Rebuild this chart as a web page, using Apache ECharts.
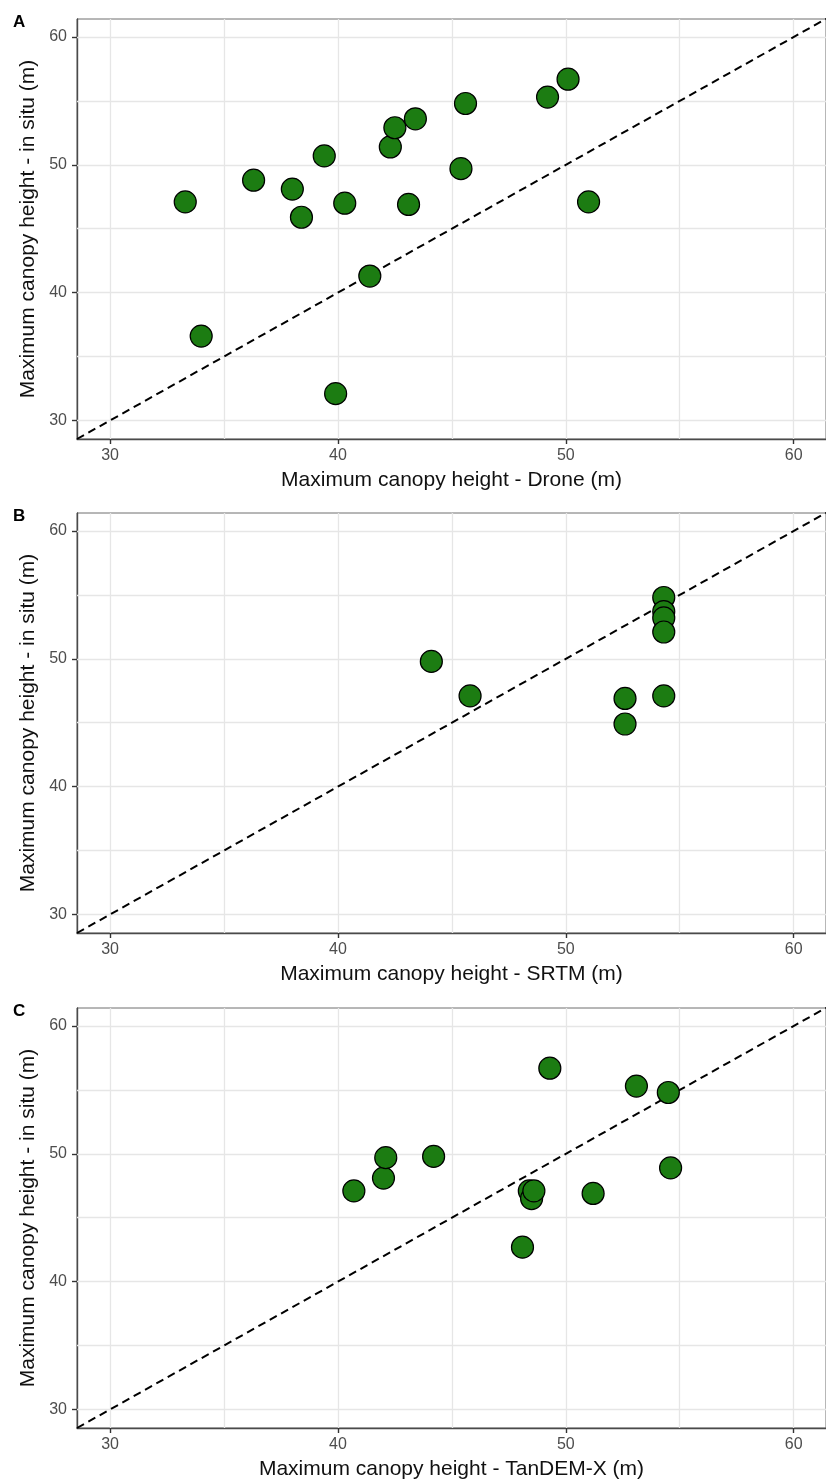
<!DOCTYPE html>
<html lang="en">
<head>
    <meta charset="UTF-8">
    <title>Maximum canopy height</title>
    <script src="https://cdn.jsdelivr.net/npm/echarts@6.0.0/dist/echarts.min.js"></script>
    <style>
        html, body { margin: 0; padding: 0; background: #fff; }
        #chart { width: 826px; height: 1483px; }
    </style>
</head>
<body>
<div id="chart"></div>
<script>
    // tick labels and grid lines
    var tickVals = [30, 40, 50, 60];
    var gridVals = [30, 35, 40, 45, 50, 55, 60];
    var panelLetters = ['A', 'B', 'C'];
    var xTitles = ['Maximum canopy height - Drone (m)', 'Maximum canopy height - SRTM (m)', 'Maximum canopy height - TanDEM-X (m)'];
    var yTitle = 'Maximum canopy height - in situ (m)';

    // panel A: drone vs in situ
    var droneX = [33.3, 34.0, 36.3, 38.0, 38.4, 39.4, 40.3, 39.9, 41.4, 42.3, 42.5, 43.4, 43.1, 45.4, 45.6, 49.2, 50.1, 51.0];
    var droneY = [47.1, 36.6, 48.8, 48.1, 45.9, 50.7, 47.0, 32.1, 41.3, 51.4, 52.9, 53.6, 46.9, 49.7, 54.8, 55.3, 56.7, 47.1];

    // panel B: SRTM vs in situ
    var srtmX = [44.1, 45.8, 52.6, 52.6, 54.3, 54.3, 54.3, 54.3, 54.3];
    var srtmY = [49.8, 47.1, 46.9, 44.9, 47.1, 54.8, 53.7, 53.2, 52.1];

    // panel C: TanDEM-X vs in situ
    var tandemX = [40.7, 42.0, 42.1, 44.2, 48.1, 48.4, 48.5, 48.6, 49.3, 51.2, 53.1, 54.5, 54.6];
    var tandemY = [47.1, 48.1, 49.7, 49.8, 42.7, 47.1, 46.5, 47.1, 56.7, 46.9, 55.3, 54.8, 48.9];

    var axisMin = 28.55, xMax = 61.42, yMax = 61.41;
    var panels = [[droneX, droneY], [srtmX, srtmY], [tandemX, tandemY]];
    var tops = [19, 513, 1008];
    var fontFam = '"Liberation Sans", Arial, sans-serif';

    var chart = echarts.init(document.getElementById('chart'));

    var grids = [], xAxes = [], yAxes = [], series = [], graphics = [];
    panels.forEach(function (p, i) {
        grids.push({
            left: 77, right: -7, top: tops[i], height: 420,
            show: true, borderColor: '#6e6e6e', borderWidth: 1, backgroundColor: '#fff'
        });
        var common = {
            gridIndex: i, type: 'value', min: axisMin,
            axisLine: { show: true, onZero: false, lineStyle: { color: '#4a4a4a', width: 1.4 } },
            axisTick: { show: true, customValues: tickVals, length: 5, lineStyle: { color: '#333', width: 1.4 } },
            axisLabel: { customValues: tickVals, color: '#4d4d4d', fontSize: 16, fontFamily: fontFam },
            splitLine: { show: false },
            nameLocation: 'middle',
            nameTextStyle: { color: '#111', fontSize: 21, fontFamily: fontFam }
        };
        xAxes.push(Object.assign({}, common, {
            max: xMax, name: xTitles[i], nameGap: 31,
            axisLabel: Object.assign({}, common.axisLabel, { margin: 9 })
        }));
        yAxes.push(Object.assign({}, common, {
            max: yMax, name: yTitle, nameGap: 34,
            axisLabel: Object.assign({}, common.axisLabel, { margin: 10 })
        }));

        var gl = [];
        gridVals.forEach(function (v) { gl.push({ xAxis: v }); gl.push({ yAxis: v }); });
        series.push({
            type: 'line', xAxisIndex: i, yAxisIndex: i, data: [], z: 1, silent: true,
            markLine: {
                silent: true, z: 1, symbol: ['none', 'none'], animation: false,
                label: { show: false },
                lineStyle: { color: '#e6e6e6', type: 'solid', width: 1.3 },
                data: gl
            }
        });
        series.push({
            type: 'line', xAxisIndex: i, yAxisIndex: i, z: 2, silent: true,
            data: [[axisMin, axisMin], [xMax, xMax]],
            symbol: 'none', clip: true,
            lineStyle: { color: '#000', width: 2, type: [8, 5] }
        });
        series.push({
            type: 'scatter', xAxisIndex: i, yAxisIndex: i, z: 3,
            symbolSize: 22,
            itemStyle: { color: '#1c7c12', borderColor: '#000', borderWidth: 1.2, opacity: 1 },
            data: p[0].map(function (x, k) { return [x, p[1][k]]; })
        });
        graphics.push({
            type: 'text', left: 13, top: tops[i] - 5,
            style: { text: panelLetters[i], font: 'bold 17px ' + fontFam, fill: '#000' }
        });
    });

    chart.setOption({
        animation: false,
        grid: grids,
        xAxis: xAxes,
        yAxis: yAxes,
        series: series,
        graphic: graphics
    });
</script>
</body>
</html>
